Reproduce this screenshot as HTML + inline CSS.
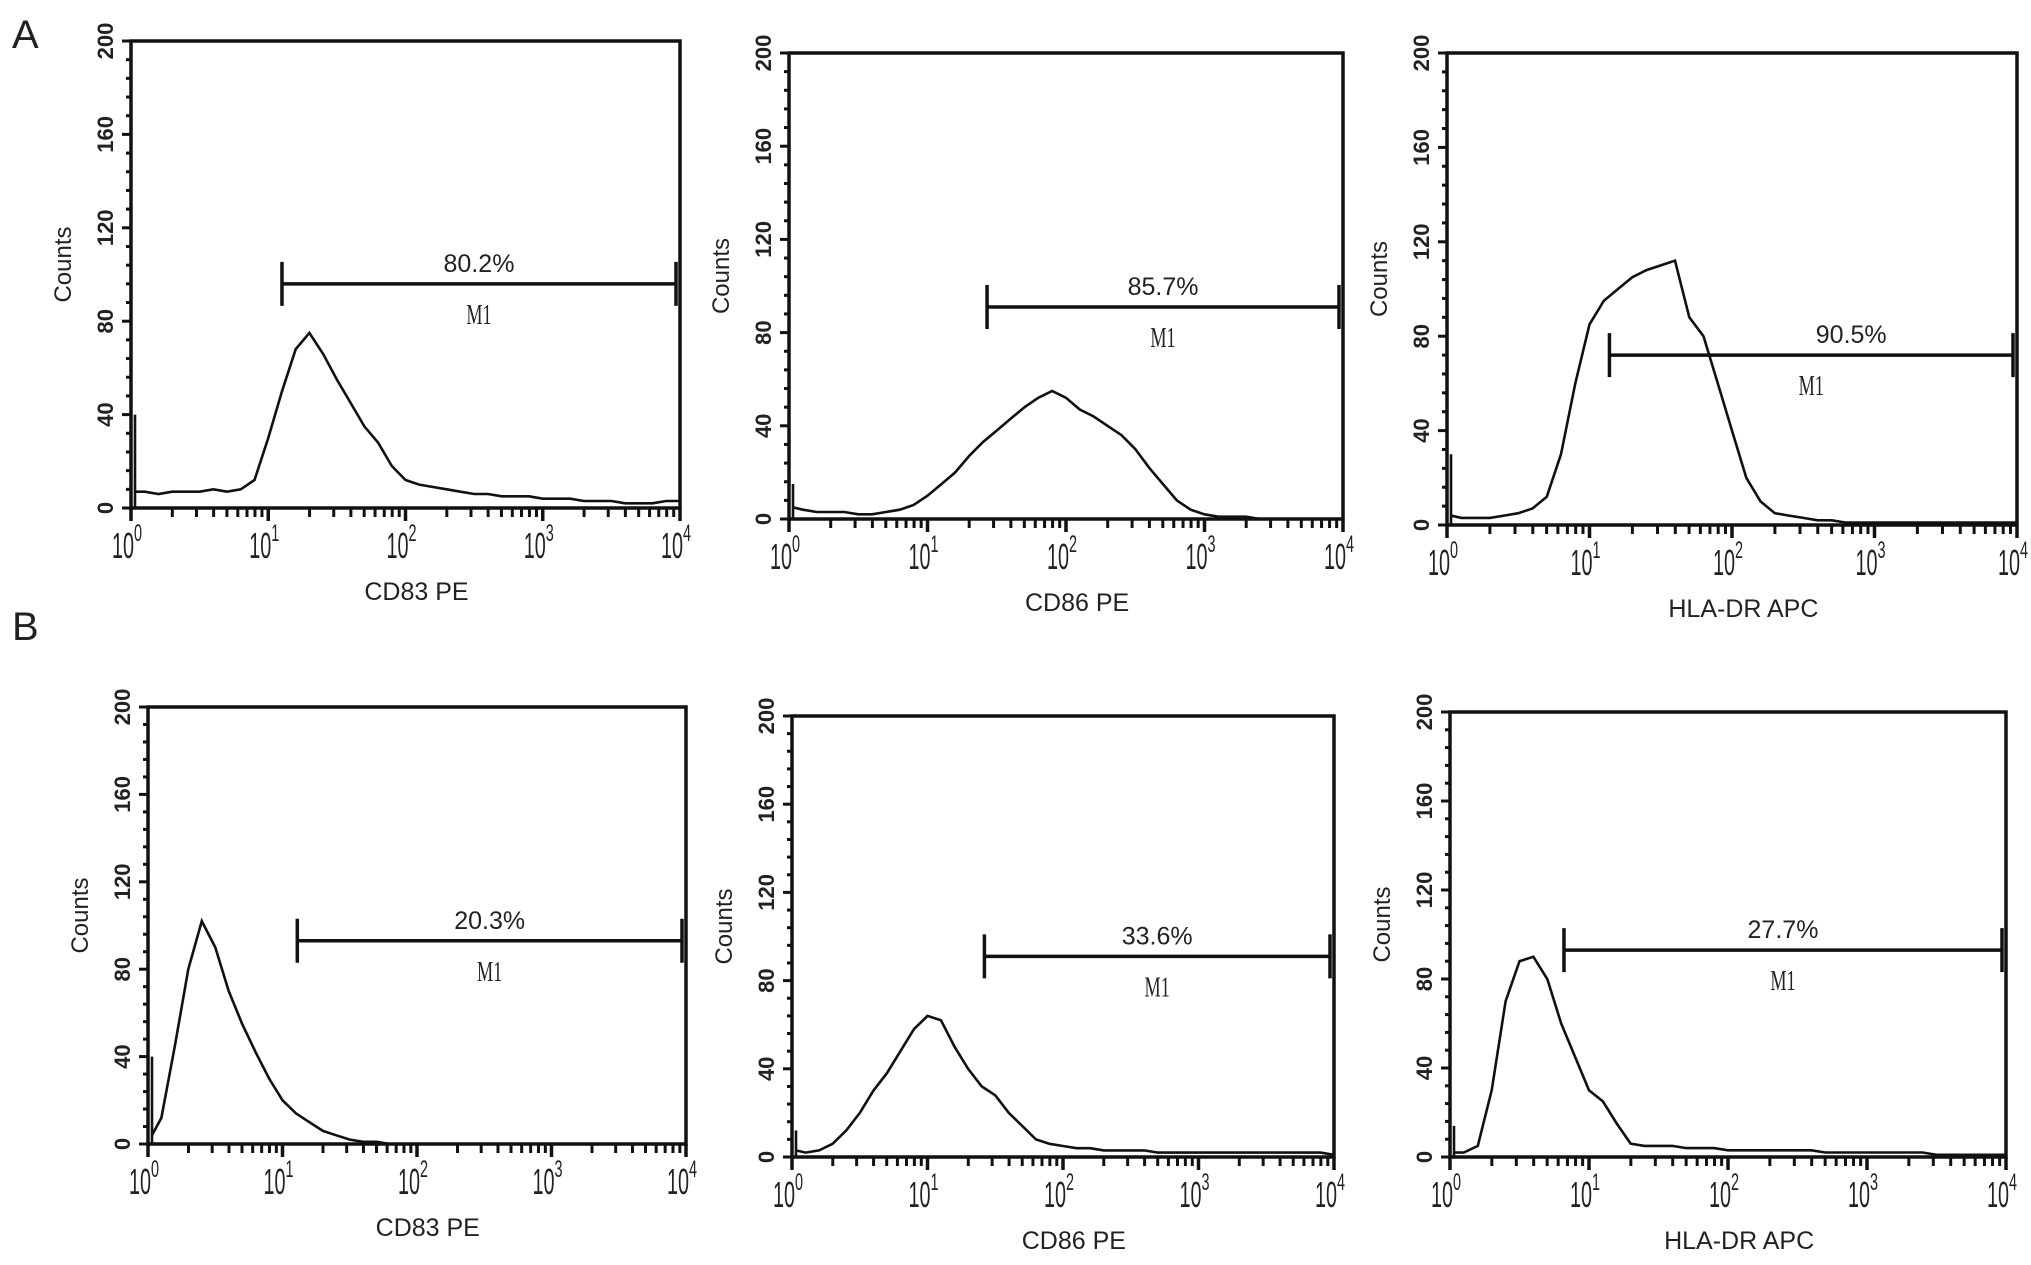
<!DOCTYPE html>
<html><head><meta charset="utf-8">
<style>
html,body{margin:0;padding:0;background:#fff;}
svg{display:block;}
text{font-family:"Liberation Sans",sans-serif;fill:#222;}
</style></head>
<body>
<svg id="fig" width="2031" height="1265" viewBox="0 0 2031 1265" xmlns="http://www.w3.org/2000/svg">
<text x="12" y="48" font-size="40">A</text>
<text x="12" y="640" font-size="40">B</text>
</svg>
<script>
// shared bin positions (log10 decades)
const bins = [0,0.1,0.2,0.3,0.4,0.5,0.6,0.7,0.8,0.9,1.0,1.1,1.2,1.3,1.4,1.5,1.6,1.7,1.8,1.9,2.0,2.1,2.2,2.3,2.4,2.5,2.6,2.7,2.8,2.9,3.0,3.1,3.2,3.3,3.4,3.5,3.6,3.7,3.8,3.9,4.0];
const countsA1 = [7,7,6,7,7,7,8,7,8,12,30,50,68,75,66,55,45,35,28,18,12,10,9,8,7,6,6,5,5,5,4,4,4,3,3,3,2,2,2,3,3];
const countsA2 = [5,4,3,3,3,2,2,3,4,6,10,15,20,27,33,38,43,48,52,55,52,47,44,40,36,30,22,15,8,4,2,1,1,1,0,0,0,0,0,0,0];
const countsA3 = [4,3,3,3,4,5,7,12,30,60,85,95,100,105,108,110,112,88,80,60,40,20,10,5,4,3,2,2,1,1,1,1,1,1,1,1,1,1,1,1,1];
const countsB1 = [4,12,45,80,102,90,70,55,42,30,20,14,10,6,4,2,1,1,0,0,0,0,0,0,0,0,0,0,0,0,0,0,0,0,0,0,0,0,0,0,0];
const countsB2 = [3,2,3,6,12,20,30,38,48,58,64,62,50,40,32,28,20,14,8,6,5,4,4,3,3,3,3,2,2,2,2,2,2,2,2,2,2,2,2,2,1];
const countsB3 = [2,2,5,30,70,88,90,80,60,45,30,25,15,6,5,5,5,4,4,4,3,3,3,3,3,3,3,2,2,2,2,2,2,2,2,1,1,1,1,1,1];
const edgeSpikes = [40,15,30,40,12,14];
const gateStart = [1.10,1.43,1.14,1.11,1.42,0.82];
const gateLevel = [96,91,72,93,91,93];
const gateLabels = ["80.2%","85.7%","90.5%","20.3%","33.6%","27.7%"];
const xTitles = ["CD83 PE","CD86 PE","HLA-DR APC","CD83 PE","CD86 PE","HLA-DR APC"];
const yTicks = [0,40,80,120,160,200];
const xTicks = [0,1,2,3,4];
const series = [countsA1,countsA2,countsA3,countsB1,countsB2,countsB3];
// layout (pixel frames)
const frames = [[131,41,680,508],[789,53,1343,519],[1447,53,2017,525],[148,707,686,1144],[792,716,1334,1157],[1450,712,2006,1157]];

const svg = document.getElementById('fig');
const NS = 'http://www.w3.org/2000/svg';
function mk(tag, attrs, parent){const e=document.createElementNS(NS,tag);for(const k in attrs)e.setAttribute(k,attrs[k]);(parent||svg).appendChild(e);return e;}

frames.forEach((f,i)=>{
  const [L,T,R,B]=f;
  const g=mk('g',{});
  
  
  const xs=v=>L+(R-L)*v/4;
  const ys=v=>B-(B-T)*v/200;
  const fr=mk('rect',{x:L,y:T,width:R-L,height:B-T,fill:'none',stroke:'#111','stroke-width':3.5},g);
  
  
  for(let v=0;v<=200;v+=8){
    const major=yTicks.includes(v);
    const t=mk('line',{x1:L-(major?9:5),x2:L,y1:ys(v),y2:ys(v),stroke:'#111','stroke-width':3},g);
    
    
  }
  yTicks.forEach(v=>{
    const y=ys(v);
    const t=mk('text',{x:L-18,y:y,'font-size':22,'font-weight':'bold','text-anchor':'middle',transform:`rotate(-90 ${L-18} ${y})`},g);
    t.textContent=v;
    
    
  });
  xTicks.forEach(d=>{
    const t=mk('line',{x1:xs(d),x2:xs(d),y1:B,y2:B+13,stroke:'#111','stroke-width':3.5},g);
    
    
    const cx=xs(d)-8;
    const tx=mk('text',{x:cx,y:B+50,'font-size':36,'text-anchor':'middle',transform:`translate(${cx} 0) scale(0.55 1) translate(${-cx} 0)`},g);
    tx.textContent='10';
    
    
    const ex=xs(d)+3;
    const sp=mk('text',{x:ex,y:B+33,'font-size':24,transform:`translate(${ex} 0) scale(0.6 1) translate(${-ex} 0)`},g);
    sp.textContent=d;
    
    
    if(d<4){for(let m=2;m<=9;m++){
      const mx=xs(d+Math.log10(m));
      const mt=mk('line',{x1:mx,x2:mx,y1:B,y2:B+9,stroke:'#111','stroke-width':3},g);
      
      
    }}
  });
  const data=series[i];
  const x0=xs(bins[0])+4;
  let d='M'+x0+' '+ys(0)+' L'+x0+' '+ys(edgeSpikes[i])+' L'+x0+' '+ys(data[0]);
  for(let k=1;k<bins.length;k++) d+=' L'+xs(bins[k]).toFixed(1)+' '+ys(data[k]).toFixed(1);
  const p=mk('path',{d:d,fill:'none',stroke:'#111','stroke-width':2.6,'stroke-linejoin':'miter'},g);
  
  
  const gx1=xs(gateStart[i]), gx2=R-4, gy=ys(gateLevel[i]);
  const gl=mk('path',{d:`M${gx1} ${gy-22} V${gy+22} M${gx1} ${gy} H${gx2} M${gx2} ${gy-22} V${gy+22}`,fill:'none',stroke:'#111','stroke-width':3.5},g);
  
  
  const mid=(gx1+gx2)/2;
  const pl=mk('text',{x:mid+(i==2?40:0),y:gy-12,'font-size':25,'text-anchor':'middle'},g);
  pl.textContent=gateLabels[i];
  
  
  const ml=mk('text',{x:mid,y:gy+40,'font-size':28,'text-anchor':'middle',transform:`translate(${mid} 0) scale(0.65 1) translate(${-mid} 0)`},g);
  ml.textContent='M1';
  ml.style.fontFamily='"Liberation Serif",serif';
  
  
  const cy=(T+B)/2-10;
  const yt=mk('text',{x:L-60,y:cy,'font-size':24,'text-anchor':'middle',transform:`rotate(-90 ${L-60} ${cy})`},g);
  yt.textContent='Counts';
  
  
  const xt=mk('text',{x:L+(R-L)*0.52,y:B+92,'font-size':25,'text-anchor':'middle'},g);
  xt.textContent=xTitles[i];
  
  
});
</script>
</body></html>
